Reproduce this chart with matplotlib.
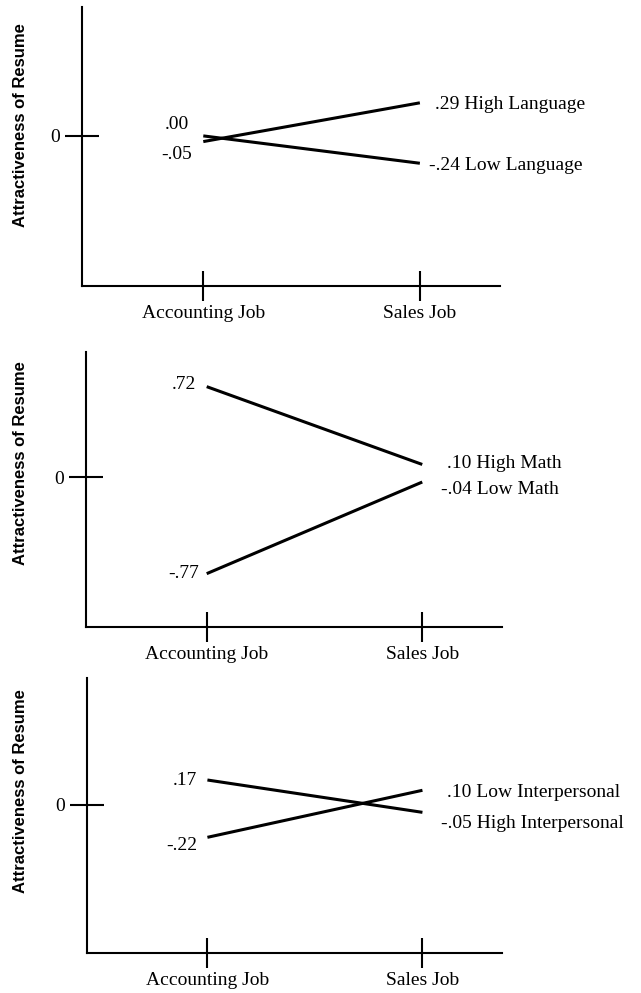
import matplotlib.pyplot as plt

plt.rcParams['font.family'] = ['Liberation Serif', 'DejaVu Serif']

# ── data ────────────────────────────────────────────────────────────
jobs = ["Accounting Job", "Sales Job"]

lang_high = [-0.05, 0.29]
lang_low = [0.00, -0.24]

math_high = [0.72, 0.10]
math_low = [-0.77, -0.04]

inter_high = [0.17, -0.05]
inter_low = [-0.22, 0.10]

ylabel = "Attractiveness of Resume"


def fmt(v):
    s = f"{v:.2f}"
    return s.replace("0.", ".", 1)


def pt(px):
    # pixel offset -> points at dpi 100
    return px * 0.72


W, H = 641, 993
fig = plt.figure(figsize=(W / 100, H / 100), dpi=100)

# rect in pixels: left, top, right, bottom ; ylim ; series with label offsets (px)
# offsets: (acc_dx, acc_dy, sales_dx, sales_dy), dy positive = up
panels = [
    dict(px=(82, 7, 500, 286), ylim=(-1.316, 1.13),
         series=[(lang_high, "High Language", (-11, -13, 15, -2)),
                 (lang_low, "Low Language", (-14, 11, 9, -2))],
         lab_x=28, lab_y=125),
    dict(px=(86, 352, 502, 627), ylim=(-1.195, 0.996),
         series=[(math_high, "High Math", (-11, 2, 25, 1)),
                 (math_low, "Low Math", (-8, 0, 19, -7))],
         lab_x=28, lab_y=463),
    dict(px=(87, 678, 502, 953), ylim=(-1.007, 0.864),
         series=[(inter_high, "High Interpersonal", (-10, 0, 19, -11)),
                 (inter_low, "Low Interpersonal", (-10, -8, 25, -2))],
         lab_x=28, lab_y=791),
]

xs = list(range(len(jobs)))

for p in panels:
    l, t, r, b = p['px']
    ax = fig.add_axes([l / W, 1 - b / H, (r - l) / W, (b - t) / H])
    ax.set_xlim(-0.56, 1.37)
    ax.set_ylim(*p['ylim'])

    for vals, name, (adx, ady, sdx, sdy) in p['series']:
        ax.plot(xs, vals, color='black', lw=2.2, solid_capstyle='butt')
        ax.annotate(fmt(vals[0]), xy=(xs[0], vals[0]),
                    xytext=(pt(adx), pt(ady)), textcoords='offset points',
                    ha='right', va='center', fontsize=14)
        ax.annotate(f"{fmt(vals[1])} {name}", xy=(xs[1], vals[1]),
                    xytext=(pt(sdx), pt(sdy)), textcoords='offset points',
                    ha='left', va='center', fontsize=14)

    for side in ['top', 'right']:
        ax.spines[side].set_visible(False)
    for side in ['left', 'bottom']:
        ax.spines[side].set_linewidth(1.5)

    ax.set_yticks([0])
    ax.set_yticklabels(['0'], fontsize=14)
    ax.set_xticks(xs)
    ax.set_xticklabels(jobs, fontsize=14)
    ax.tick_params(axis='y', direction='inout', length=24, width=1.5, pad=3.6)
    ax.tick_params(axis='x', direction='inout', length=21.6, width=1.5, pad=3)

    ax.set_ylabel(ylabel, family=['Liberation Sans', 'DejaVu Sans'],
                  fontsize=12, fontweight='bold')
    ax.yaxis.set_label_coords((p['lab_x'] - l) / (r - l), (b - p['lab_y']) / (b - t))
    ax.yaxis.label.set_va('bottom')

fig.savefig('out.png', dpi=100)
